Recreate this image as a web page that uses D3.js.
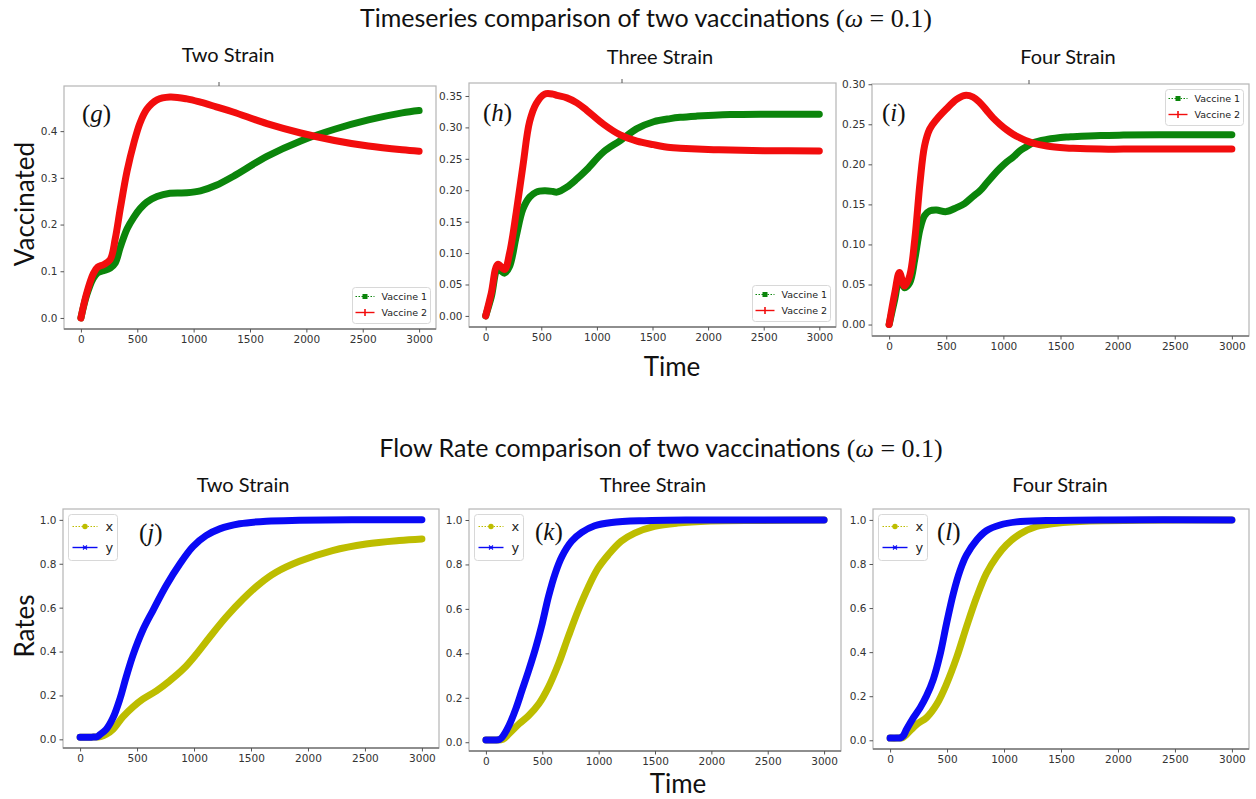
<!DOCTYPE html>
<html>
<head>
<meta charset="utf-8">
<script src="https://cdn.jsdelivr.net/npm/d3@7"></script>
<style>
  html, body { margin: 0; padding: 0; background: #fff; }
  svg { display: block; }
</style>
</head>
<body>
<svg id="fig" width="1256" height="799"></svg>
<script>
// ---------- data: vaccinated fractions over time ----------
const twoV1_t  = [0, 50, 110, 150, 200, 260, 305, 350, 410, 470, 525, 585, 675, 790, 940, 1060, 1200, 1350, 1650, 1950, 2250, 2550, 2850, 3000];
const twoV1    = [0, 0.048, 0.085, 0.097, 0.101, 0.107, 0.118, 0.152, 0.191, 0.216, 0.234, 0.248, 0.260, 0.267, 0.268, 0.272, 0.284, 0.303, 0.346, 0.379, 0.404, 0.424, 0.439, 0.444];
const twoV2_t  = twoV1_t;
const twoV2    = [0, 0.052, 0.095, 0.109, 0.114, 0.125, 0.170, 0.235, 0.315, 0.375, 0.418, 0.447, 0.467, 0.473, 0.469, 0.462, 0.452, 0.441, 0.416, 0.396, 0.380, 0.368, 0.360, 0.357];

const threeV_t = [0, 50, 110, 170, 215, 275, 335, 395, 455, 530, 605, 640, 730, 820, 910, 1060, 1210, 1360, 1510, 1660, 1750, 1900, 2050, 2200, 2500, 3000];
const threeV1  = [0, 0.030, 0.074, 0.068, 0.079, 0.127, 0.170, 0.189, 0.197, 0.199, 0.198, 0.197, 0.205, 0.218, 0.233, 0.261, 0.279, 0.298, 0.309, 0.314, 0.316, 0.318, 0.3195, 0.3205, 0.321, 0.321];
const threeV2  = [0, 0.036, 0.082, 0.074, 0.100, 0.165, 0.239, 0.309, 0.338, 0.353, 0.353, 0.351, 0.347, 0.339, 0.327, 0.305, 0.288, 0.278, 0.2725, 0.268, 0.267, 0.2655, 0.2645, 0.264, 0.263, 0.2624];

const fourV_t  = [0, 50, 90, 135, 180, 225, 270, 310, 355, 415, 500, 590, 660, 735, 795, 850, 910, 970, 1030, 1085, 1145, 1200, 1260, 1380, 1550, 1610, 1850, 2050, 2500, 3000];
const fourV1   = [0, 0.032, 0.057, 0.046, 0.052, 0.082, 0.119, 0.136, 0.142, 0.143, 0.141, 0.146, 0.151, 0.160, 0.167, 0.176, 0.186, 0.195, 0.203, 0.209, 0.217, 0.222, 0.227, 0.231, 0.234, 0.2345, 0.236, 0.2365, 0.237, 0.237];
const fourV2   = [0, 0.040, 0.065, 0.048, 0.061, 0.107, 0.177, 0.223, 0.244, 0.256, 0.269, 0.281, 0.286, 0.284, 0.277, 0.268, 0.258, 0.250, 0.243, 0.2376, 0.233, 0.2295, 0.2265, 0.223, 0.2205, 0.220, 0.219, 0.219, 0.219, 0.219];

// ---------- data: flow rates over time ----------
const twoX_t   = [0, 100, 180, 230, 290, 375, 465, 550, 670, 785, 905, 1020, 1135, 1280, 1430, 1575, 1720, 1925, 2215, 2510, 2800, 3000];
const twoX     = [0.01, 0.01, 0.012, 0.023, 0.046, 0.102, 0.148, 0.183, 0.221, 0.266, 0.320, 0.388, 0.464, 0.556, 0.639, 0.708, 0.761, 0.811, 0.860, 0.890, 0.906, 0.913];
const twoY_t   = [0, 100, 150, 170, 230, 290, 350, 405, 465, 550, 640, 755, 875, 990, 1105, 1225, 1400, 1635, 1925, 2400, 3000];
const twoY     = [0.01, 0.01, 0.012, 0.020, 0.046, 0.099, 0.185, 0.285, 0.385, 0.497, 0.588, 0.700, 0.799, 0.878, 0.928, 0.959, 0.982, 0.994, 0.998, 1.0, 1.0];

const threeX_t = [0, 80, 150, 205, 295, 380, 470, 555, 645, 730, 820, 910, 995, 1085, 1200, 1320, 1495, 1700, 1990, 2430, 3000];
const threeX   = [0.01, 0.01, 0.013, 0.038, 0.083, 0.120, 0.173, 0.248, 0.354, 0.474, 0.595, 0.700, 0.783, 0.843, 0.904, 0.941, 0.971, 0.986, 0.995, 0.998, 1.0];
const threeY_t = [0, 80, 120, 145, 205, 265, 320, 380, 440, 500, 555, 615, 675, 760, 850, 965, 1115, 1405, 1845, 3000];
const threeY   = [0.01, 0.01, 0.012, 0.023, 0.075, 0.150, 0.233, 0.324, 0.422, 0.535, 0.655, 0.760, 0.836, 0.904, 0.944, 0.974, 0.989, 0.997, 1.0, 1.0];

const fourX_t  = [0, 60, 110, 145, 235, 320, 410, 495, 585, 670, 760, 845, 935, 1020, 1140, 1285, 1460, 1750, 2190, 3000];
const fourX    = [0.01, 0.01, 0.012, 0.027, 0.073, 0.103, 0.164, 0.255, 0.377, 0.514, 0.650, 0.757, 0.833, 0.886, 0.936, 0.970, 0.985, 0.995, 0.998, 1.0];
const fourY_t  = [0, 60, 90, 115, 145, 205, 265, 320, 380, 440, 495, 555, 615, 670, 760, 845, 965, 1110, 1370, 1895, 3000];
const fourY    = [0.01, 0.01, 0.011, 0.020, 0.050, 0.103, 0.149, 0.202, 0.278, 0.392, 0.529, 0.666, 0.772, 0.840, 0.909, 0.951, 0.977, 0.991, 0.997, 1.0, 1.0];

// ---------- tick labels ----------
const timeTicks   = [0, 500, 1000, 1500, 2000, 2500, 3000];
const twoVTicks   = [0, 0.1, 0.2, 0.3, 0.4];
const threeVTicks = [0, 0.05, 0.10, 0.15, 0.20, 0.25, 0.30, 0.35];
const fourVTicks  = [0, 0.05, 0.10, 0.15, 0.20, 0.25, 0.30];
const rateTicks   = [0, 0.2, 0.4, 0.6, 0.8, 1.0];

// ---------- text ----------
const panelTitles = ["Two Strain", "Three Strain", "Four Strain"];
const vaccineNames = ["Vaccine 1", "Vaccine 2"];
const rateNames = ["x", "y"];

// ---------- styling / layout ----------
const C = { green: "#0b850b", red: "#f20d0d", olive: "#bdbd00", blue: "#0a0af5" };
const zip = (t, v) => t.map((d, i) => ({ t: d, v: v[i] }));

const panels = [
  { box: [64, 86, 436, 329],   tag: "g", title: panelTitles[0], tx: 228,  ty: 62,  ticks: twoVTicks,   fmt: ".1f",
    series: [zip(twoV1_t, twoV1), zip(twoV2_t, twoV2)], colors: [C.green, C.red], kind: "vac", legend: "lower right",
    tagPos: [82, 122], notch: 219 },
  { box: [469, 83, 836, 327],  tag: "h", title: panelTitles[1], tx: 660,  ty: 64,  ticks: threeVTicks, fmt: ".2f",
    series: [zip(threeV_t, threeV1), zip(threeV_t, threeV2)], colors: [C.green, C.red], kind: "vac", legend: "lower right",
    tagPos: [483, 121], notch: 622 },
  { box: [872, 84, 1249, 336], tag: "i", title: panelTitles[2], tx: 1068, ty: 64,  ticks: fourVTicks,  fmt: ".2f",
    series: [zip(fourV_t, fourV1), zip(fourV_t, fourV2)], colors: [C.green, C.red], kind: "vac", legend: "upper right",
    tagPos: [882, 121], notch: 1029 },
  { box: [63, 509, 439, 748],  tag: "j", title: panelTitles[0], tx: 243,  ty: 492, ticks: rateTicks,   fmt: ".1f",
    series: [zip(twoX_t, twoX), zip(twoY_t, twoY)], colors: [C.olive, C.blue], kind: "rate", legend: "upper left",
    tagPos: [139, 541] },
  { box: [469, 509, 841, 751], tag: "k", title: panelTitles[1], tx: 653,  ty: 492, ticks: rateTicks,   fmt: ".1f",
    series: [zip(threeX_t, threeX), zip(threeY_t, threeY)], colors: [C.olive, C.blue], kind: "rate", legend: "upper left",
    tagPos: [535, 540] },
  { box: [873, 509, 1249, 749], tag: "l", title: panelTitles[2], tx: 1060, ty: 492, ticks: rateTicks,   fmt: ".1f",
    series: [zip(fourX_t, fourX), zip(fourY_t, fourY)], colors: [C.olive, C.blue], kind: "rate", legend: "upper left",
    tagPos: [937, 540] }
];

const svg = d3.select("#fig");
const SANS = "Lato, 'Open Sans', sans-serif";
const SERIF = "'Liberation Serif', 'DejaVu Serif', serif";
const TICKFONT = "'DejaVu Sans', sans-serif";

// padded extent, like a default plotting margin of 5%
function padded(lo, hi) { const m = (hi - lo) * 0.05; return [lo - m, hi + m]; }

// ---------- figure titles ----------
function figTitle(x, y, main) {
  const t = svg.append("text").attr("x", x).attr("y", y).attr("text-anchor", "middle")
    .attr("font-family", SANS).attr("font-size", 25).attr("fill", "#111");
  t.append("tspan").text(main + " ");
  const s = t.append("tspan").attr("font-family", SERIF).attr("font-size", 26);
  s.append("tspan").text("(");
  s.append("tspan").attr("font-style", "italic").text("ω");
  s.append("tspan").text(" = 0.1)");
}
figTitle(646, 27, "Timeseries comparison of two vaccinations");
figTitle(661, 457, "Flow Rate comparison of two vaccinations");

// axis labels
svg.append("text").attr("transform", "translate(34,204) rotate(-90)").attr("text-anchor", "middle")
  .attr("font-family", SANS).attr("font-size", 26).attr("fill", "#111").text("Vaccinated");
svg.append("text").attr("transform", "translate(34,626) rotate(-90)").attr("text-anchor", "middle")
  .attr("font-family", SANS).attr("font-size", 26).attr("fill", "#111").text("Rates");
svg.append("text").attr("x", 672).attr("y", 376).attr("text-anchor", "middle")
  .attr("font-family", SANS).attr("font-size", 26).attr("fill", "#111").text("Time");
svg.append("text").attr("x", 678).attr("y", 793).attr("text-anchor", "middle")
  .attr("font-family", SANS).attr("font-size", 26).attr("fill", "#111").text("Time");

// ---------- panels ----------
panels.forEach(p => {
  const [x0, y0, x1, y1] = p.box;
  const allT = p.series.flat().map(d => d.t);
  const allV = p.series.flat().map(d => d.v);
  const x = d3.scaleLinear().domain(padded(d3.min(allT), d3.max(allT))).range([x0, x1]);
  const y = d3.scaleLinear().domain(padded(d3.min(allV), d3.max(allV))).range([y1, y0]);
  const g = svg.append("g");

  // subplot title
  g.append("text").attr("x", p.tx).attr("y", p.ty).attr("text-anchor", "middle")
    .attr("font-family", SANS).attr("font-size", 20).attr("fill", "#111").text(p.title);

  // frame
  g.append("rect").attr("x", x0).attr("y", y0).attr("width", x1 - x0).attr("height", y1 - y0)
    .attr("fill", "#fff").attr("stroke", "#b5b5b5").attr("stroke-width", 1.2);
  g.append("line").attr("x1", x0).attr("x2", x1).attr("y1", y1).attr("y2", y1)
    .attr("stroke", "#777").attr("stroke-width", 1.4);
  if (p.notch) g.append("line").attr("x1", p.notch).attr("x2", p.notch).attr("y1", y0 - 4).attr("y2", y0)
    .attr("stroke", "#555").attr("stroke-width", 1);

  // axes
  const xAxis = d3.axisBottom(x).tickValues(timeTicks).tickFormat(d3.format("d")).tickSize(3.5).tickPadding(3);
  const yAxis = d3.axisLeft(y).tickValues(p.ticks).tickFormat(d3.format(p.fmt)).tickSize(3.5).tickPadding(3);
  const ax = g.append("g").attr("transform", `translate(0,${y1})`).call(xAxis);
  const ay = g.append("g").attr("transform", `translate(${x0},0)`).call(yAxis);
  [ax, ay].forEach(a => {
    a.select(".domain").remove();
    a.selectAll(".tick line").attr("stroke", "#555");
    a.selectAll(".tick text").attr("font-family", TICKFONT).attr("font-size", 10.5).attr("fill", "#333");
  });

  // curves
  const line = d3.line().x(d => x(d.t)).y(d => y(d.v)).curve(d3.curveCatmullRom.alpha(0.5));
  p.series.forEach((s, i) => {
    g.append("path").datum(s).attr("d", line).attr("fill", "none")
      .attr("stroke", p.colors[i]).attr("stroke-width", 7)
      .attr("stroke-linecap", "round").attr("stroke-linejoin", "round");
  });

  // panel tag such as (g)
  const tg = g.append("text").attr("x", p.tagPos[0]).attr("y", p.tagPos[1])
    .attr("font-family", SERIF).attr("font-size", 25).attr("fill", "#111");
  tg.append("tspan").text("(");
  tg.append("tspan").attr("font-style", "italic").text(p.tag);
  tg.append("tspan").text(")");

  // legend
  const vac = p.kind === "vac";
  const lw = vac ? 78 : 49, lh = vac ? 36 : 46, pad = 5.5;
  const lx = p.legend.includes("right") ? x1 - pad - lw : x0 + pad;
  const ly = p.legend.includes("lower") ? y1 - pad - lh : y0 + pad;
  const lg = g.append("g").attr("transform", `translate(${lx},${ly})`);
  lg.append("rect").attr("width", lw).attr("height", lh).attr("rx", 3)
    .attr("fill", "#fff").attr("stroke", "#d8d8d8").attr("stroke-width", 1);
  const names = vac ? vaccineNames : rateNames;
  const rows = vac ? [9, 25] : [12, 33];
  const seg = vac ? [3, 22] : [4, 29];
  const textX = vac ? 29 : 37;
  names.forEach((n, i) => {
    const ry = rows[i], col = p.colors[i], mx = (seg[0] + seg[1]) / 2;
    lg.append("line").attr("x1", seg[0]).attr("x2", seg[1]).attr("y1", ry).attr("y2", ry)
      .attr("stroke", col).attr("stroke-width", i === 0 ? 1 : 1.4)
      .attr("stroke-dasharray", i === 0 ? "1.5,1.5" : null);
    if (vac && i === 0) {
      lg.append("rect").attr("x", mx - 2.5).attr("y", ry - 2.5).attr("width", 5).attr("height", 5).attr("fill", col);
    } else if (vac) {
      lg.append("line").attr("x1", mx).attr("x2", mx).attr("y1", ry - 3.5).attr("y2", ry + 3.5)
        .attr("stroke", col).attr("stroke-width", 1.6);
    } else if (i === 0) {
      lg.append("circle").attr("cx", mx).attr("cy", ry).attr("r", 2.7).attr("fill", col);
    } else {
      lg.append("path").attr("d", `M${mx - 2},${ry - 2}L${mx + 2},${ry + 2}M${mx - 2},${ry + 2}L${mx + 2},${ry - 2}`)
        .attr("stroke", col).attr("stroke-width", 1.1);
    }
    lg.append("text").attr("x", textX).attr("y", ry).attr("dy", "0.35em")
      .attr("font-family", TICKFONT).attr("font-size", vac ? 9.5 : 13).attr("fill", "#222").text(n);
  });
});
</script>
</body>
</html>
